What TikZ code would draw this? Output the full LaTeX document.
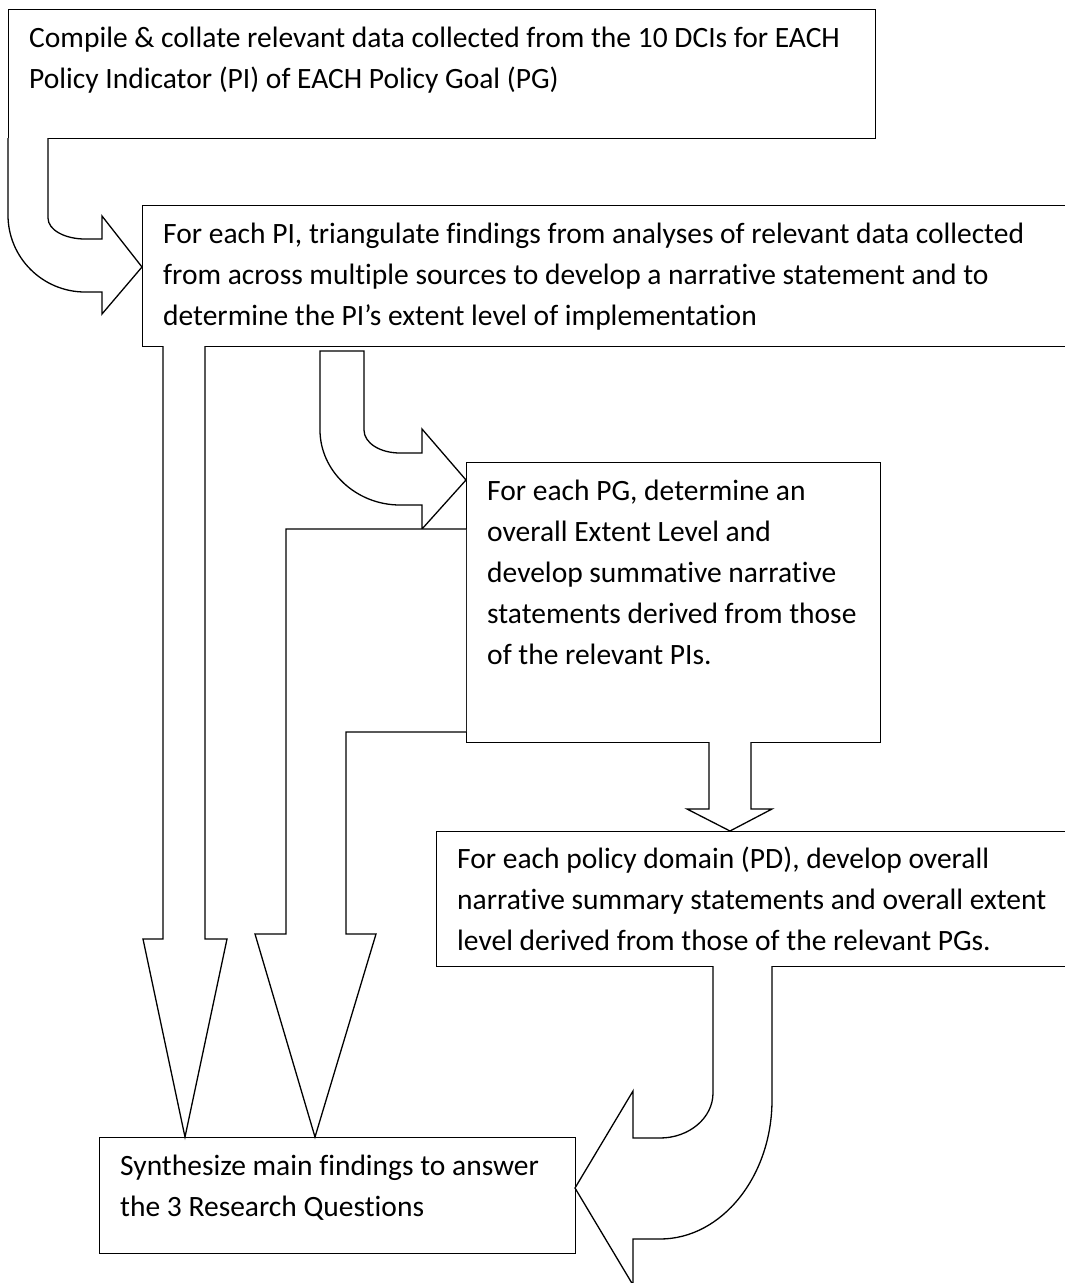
\documentclass[tikz,border=0pt]{standalone}
\usepackage{fontspec}
\setmainfont{Carlito}[Ligatures=NoCommon]
\usetikzlibrary{calc}

\tikzset{
  box/.style={draw, line width=1.3pt, rectangle, inner sep=0pt, anchor=north west},
  boxtext/.style={inner sep=0pt, anchor=north west, align=left, font=\fontsize{29.5}{41}\selectfont},
  blockarrow/.style={draw, line width=1.3pt, fill=white, line join=miter}
}
\newcommand{\firstline}{\rule{0pt}{22pt}}

\begin{document}
\begin{tikzpicture}[x=1pt, y=-1pt]
\useasboundingbox (0,0) rectangle (1065,1283);

% Draw the five boxes
\node[box, minimum width=867pt, minimum height=129pt] (compile) at (8,9) {};
\node[box, minimum width=928pt, minimum height=141pt] (triang) at (142,205) {};
\node[box, minimum width=414pt, minimum height=280pt] (goal) at (466,462) {};
\node[box, minimum width=634pt, minimum height=135pt] (domain) at (436,831) {};
\node[box, minimum width=476pt, minimum height=116pt] (synth) at (99,1137) {};

% Texts inside the boxes
\node[boxtext] (compiletxt) at ([xshift=21pt, yshift=-16pt]compile.north west)
  {\firstline Compile \& collate relevant data collected from the 10 DCIs for EACH\\Policy Indicator (PI) of EACH Policy Goal (PG)};
\node[boxtext] (triangtxt) at ([xshift=21pt, yshift=-16pt]triang.north west)
  {\firstline For each PI, triangulate findings from analyses of relevant data collected\\from across multiple sources to develop a narrative statement and to\\determine the PI’s extent level of implementation};
\node[boxtext] (goaltxt) at ([xshift=21pt, yshift=-16pt]goal.north west)
  {\firstline For each PG, determine an\\overall Extent Level and\\develop summative narrative\\statements derived from those\\of the relevant PIs.};
\node[boxtext] (domaintxt) at ([xshift=21pt, yshift=-15pt]domain.north west)
  {\firstline For each policy domain (PD), develop overall\\narrative summary statements and overall extent\\level derived from those of the relevant PGs.};
\node[boxtext] (synthtxt) at ([xshift=21pt, yshift=-16pt]synth.north west)
  {\firstline Synthesize main findings to answer\\the 3 Research Questions};

% Curved arrow from the first box to the PI box
\draw[blockarrow] (8,138) -- (8,215) .. controls (8,258) and (43,292) .. (85,292)
  -- (102,292) -- (102,314) -- (142,267) -- (102,216) -- (102,239) -- (85,239)
  .. controls (65,239) and (48,230) .. (48,218) -- (48,138);

% Curved arrow from the PI box to the PG box
\draw[blockarrow] (320,351) -- (364,351) -- (364,430) .. controls (364,443) and (380,453) .. (400,453)
  -- (422,453) -- (422,429) -- (466,480) -- (422,529) -- (422,505) -- (400,505)
  .. controls (356,505) and (320,471) .. (320,430) -- cycle;

% Straight arrow from the PI box down to the last box
\draw[blockarrow] (163,346) -- (163,939) -- (143,939) -- (185,1137) -- (227,939) -- (205,939) -- (205,346);

% Bent arrow from the PG box down to the last box
\draw[blockarrow] (466,529) -- (286,529) -- (286,934) -- (255,934) -- (315,1137) -- (376,934)
  -- (346,934) -- (346,732) -- (466,732);

% Arrow from the PG box to the PD box
\draw[blockarrow] (709,742) -- (709,809) -- (687,809) -- (730,831) -- (772,809) -- (751,809) -- (751,742);

% Curved arrow from the PD box back to the last box
\draw[blockarrow] (713,966) -- (713,1093) .. controls (713,1118) and (689,1138) .. (660,1138)
  -- (633,1138) -- (633,1091) -- (575,1188) -- (633,1285) -- (633,1239) -- (660,1239)
  .. controls (722,1239) and (772,1176) .. (772,1100) -- (772,966);
\end{tikzpicture}
\end{document}
